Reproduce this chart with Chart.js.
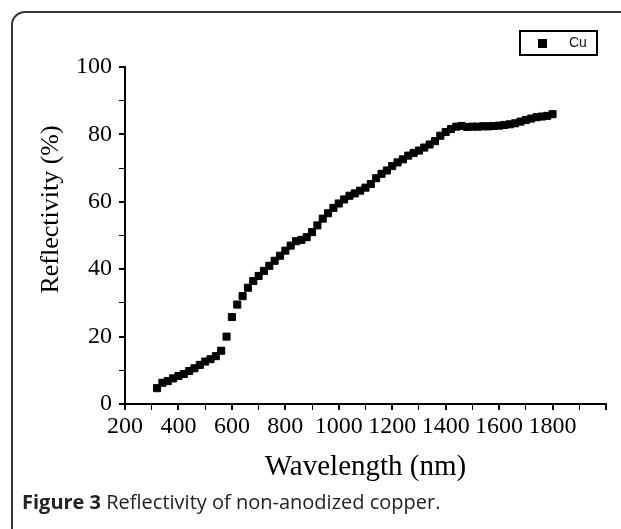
<!DOCTYPE html>
<html>
<head>
<meta charset="utf-8">
<style>
	body {
		margin: 0;
		background: #fff;
		width: 621px;
		height: 529px;
		overflow: hidden;
		position: relative;
	}
	.frame {
		position: absolute;
		left: 11px;
		top: 11px;
		width: 660px;
		height: 580px;
		border: 2px solid #333;
		border-radius: 14px;
	}
	.plot {
		position: absolute;
		left: 0;
		top: 0;
		width: 621px;
		height: 494px;
	}
	.legend {
		position: absolute;
		left: 519px;
		top: 30px;
		width: 75px;
		height: 22px;
		border: 2px solid #000;
		font-family: "Liberation Sans", sans-serif;
		font-size: 14px;
		color: #111;
	}
	.legend .mark {
		position: absolute;
		left: 17px;
		top: 7px;
		width: 9px;
		height: 9px;
		background: #000;
	}
	.legend .name {
		position: absolute;
		left: 48px;
		top: 2px;
	}
	.caption {
		position: absolute;
		left: 22px;
		top: 488px;
		font-family: "Open Sans", sans-serif;
		font-size: 20px;
		color: #222;
	}
</style>
</head>
<body>
<div class="frame"></div>
<div class="plot"><canvas id="chart"></canvas></div>
<div class="legend"><span class="mark"></span><span class="name">Cu</span></div>
<div class="caption"><b>Figure 3</b> Reflectivity of non-anodized copper.</div>

<script src="https://cdn.jsdelivr.net/npm/chart.js"></script>
<script>
	// wavelength (nm)
	var wavelength = [
		320, 340, 360, 380, 400, 420, 440, 460, 480, 500,
		520, 540, 560, 580, 600, 620, 640, 660, 680, 700,
		720, 740, 760, 780, 800, 820, 840, 860, 880, 900,
		920, 940, 960, 980, 1000, 1020, 1040, 1060, 1080, 1100,
		1120, 1140, 1160, 1180, 1200, 1220, 1240, 1260, 1280, 1300,
		1320, 1340, 1360, 1380, 1400, 1420, 1440, 1460, 1480, 1500,
		1520, 1540, 1560, 1580, 1600, 1620, 1640, 1660, 1680, 1700,
		1720, 1740, 1760, 1780, 1800
	];

	// reflectivity (%) of Cu
	var reflectivity = [
		4.7, 6.3, 6.8, 7.6, 8.3, 8.9, 9.8, 10.6, 11.6, 12.6,
		13.3, 14.2, 15.8, 20.0, 25.8, 29.5, 32.0, 34.5, 36.5, 38.0,
		39.5, 41.0, 42.5, 44.0, 45.5, 47.0, 48.3, 48.7, 49.5, 51.0,
		53.0, 55.0, 56.6, 58.2, 59.5, 60.7, 61.8, 62.5, 63.3, 64.2,
		65.3, 67.0, 68.3, 69.3, 70.6, 71.7, 72.6, 73.7, 74.5, 75.2,
		76.1, 77.0, 78.0, 79.6, 80.7, 81.6, 82.3, 82.5, 82.2, 82.3,
		82.3, 82.4, 82.4, 82.5, 82.6, 82.8, 83.0, 83.3, 83.8, 84.3,
		84.7, 85.1, 85.3, 85.5, 86.0
	];

	var points = wavelength.map(function (w, i) {
		return { x: w, y: reflectivity[i] };
	});

	var serif = 'Liberation Serif';

	new Chart(document.getElementById('chart'), {
		type: 'scatter',
		data: {
			datasets: [{
				label: 'Cu',
				data: points,
				pointStyle: 'rect',
				pointRadius: 5,
				pointBorderWidth: 1,
				backgroundColor: '#000',
				borderColor: '#000',
				showLine: false
			}]
		},
		options: {
			responsive: true,
			maintainAspectRatio: false,
			animation: false,
			layout: {
				padding: { top: 67, right: 15, bottom: 0, left: 0 }
			},
			plugins: {
				legend: { display: false },
				tooltip: { enabled: false }
			},
			scales: {
				x: {
					type: 'linear',
					position: 'bottom',
					min: 200,
					max: 2000,
					border: { color: '#000', width: 2 },
					grid: {
						drawOnChartArea: false,
						drawTicks: true,
						tickLength: 6,
						color: '#000',
						lineWidth: function (ctx) {
							return ctx.tick && ctx.tick.value % 200 === 0 ? 2 : 1;
						}
					},
					ticks: {
						stepSize: 100,
						autoSkip: false,
						maxRotation: 0,
						padding: 2,
						color: '#000',
						font: { family: serif, size: 24 },
						callback: function (v) {
							return v % 200 === 0 && v < 2000 ? v : '';
						}
					},
					title: {
						display: true,
						text: 'Wavelength (nm)',
						color: '#000',
						font: { family: serif, size: 29 },
						padding: { top: 0, bottom: 9 }
					},
					afterFit: function (s) { s.height = 90; }
				},
				y: {
					min: 0,
					max: 100,
					border: { color: '#000', width: 2 },
					grid: {
						drawOnChartArea: false,
						drawTicks: true,
						tickLength: 6,
						color: '#000',
						lineWidth: function (ctx) {
							return ctx.tick && ctx.tick.value % 20 === 0 ? 2 : 1;
						}
					},
					ticks: {
						stepSize: 10,
						autoSkip: false,
						padding: 7,
						color: '#000',
						font: { family: serif, size: 24 },
						callback: function (v) {
							return v % 20 === 0 ? v : '';
						}
					},
					title: {
						display: true,
						// leading spaces lift the label a little, as in the original
						text: '        Reflectivity (%)',
						color: '#000',
						font: { family: serif, size: 26 },
						padding: { top: 36, bottom: 0 }
					},
					afterFit: function (s) { s.width = 125; }
				}
			}
		}
	});
</script>
</body>
</html>
